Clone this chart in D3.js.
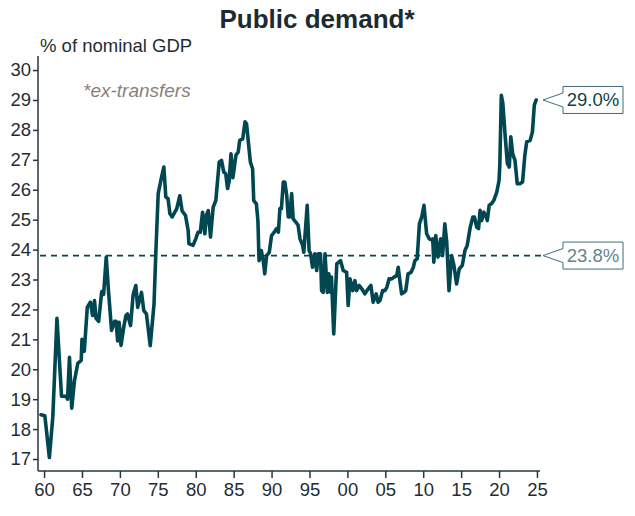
<!DOCTYPE html>
<html>
<head>
<meta charset="utf-8">
<script src="https://cdn.jsdelivr.net/npm/d3@7"></script>
<style>
  html, body { margin: 0; padding: 0; background: #fff; }
  svg { display: block; font-family: "Liberation Sans", Arial, sans-serif; }
</style>
</head>
<body>
<svg id="chart" width="635" height="516"></svg>
<script>
// ---- data ----
const years = [
  1959.6,1960.1,1960.7,1961.15,1961.7,1962.3,1962.9,1963.1,1963.35,1963.65,
  1964.0,1964.45,1964.9,1965.0,1965.3,1965.7,1966.1,1966.4,1966.65,1966.85,
  1967.2,1967.6,1967.85,1968.2,1968.5,1968.9,1969.3,1969.5,1969.7,1969.9,
  1970.15,1970.5,1970.8,1971.0,1971.4,1971.75,1972.1,1972.35,1972.85,1973.15,
  1973.5,1974.0,1974.5,1974.75,1975.05,1975.5,1975.8,1976.05,1976.35,1976.6,
  1976.9,1977.5,1977.9,1978.2,1978.65,1979.0,1979.1,1979.65,1980.0,1980.3,
  1980.6,1980.9,1981.2,1981.4,1981.65,1981.95,1982.3,1982.65,1983.1,1983.4,
  1983.7,1983.95,1984.2,1984.4,1984.65,1984.9,1985.3,1985.6,1985.8,1986.2,
  1986.5,1986.7,1987.05,1987.2,1987.5,1987.65,1988.0,1988.2,1988.35,1988.65,
  1988.9,1989.1,1989.35,1989.7,1990.0,1990.35,1990.65,1990.9,1991.1,1991.3,
  1991.55,1991.75,1992.0,1992.2,1992.4,1992.65,1992.85,1993.2,1993.5,1993.75,
  1994.1,1994.25,1994.7,1994.95,1995.15,1995.4,1995.7,1995.95,1996.15,1996.45,
  1996.6,1996.8,1997.05,1997.35,1997.55,1997.8,1997.9,1998.2,1998.6,1999.1,
  1999.45,1999.9,2000.1,2000.35,2000.7,2001.0,2001.2,2001.55,2001.9,2002.3,
  2002.75,2003.1,2003.4,2003.8,2004.05,2004.3,2004.65,2004.95,2005.2,2005.5,
  2005.85,2006.15,2006.5,2006.7,2006.95,2007.15,2007.45,2007.7,2008.0,2008.4,
  2008.7,2008.9,2009.2,2009.5,2009.8,2010.1,2010.45,2010.8,2011.1,2011.25,
  2011.4,2011.65,2011.95,2012.3,2012.55,2012.85,2013.1,2013.4,2013.75,2014.05,
  2014.4,2014.75,2015.15,2015.5,2015.8,2016.2,2016.55,2016.75,2017.05,2017.3,
  2017.5,2017.7,2018.0,2018.3,2018.45,2018.7,2019.0,2019.3,2019.7,2020.0,
  2020.1,2020.3,2020.5,2020.8,2021.1,2021.35,2021.55,2021.8,2022.1,2022.4,
  2022.75,2023.1,2023.4,2023.65,2024.1,2024.4,2024.65,2024.9
];
const values = [
  18.48,18.45,17.05,18.4,21.7,19.1,19.1,19.0,20.4,18.7,
  19.6,20.2,20.3,21.0,20.6,22.07,22.24,21.8,22.3,21.7,
  21.6,22.6,22.5,23.75,22.6,21.3,21.6,21.6,20.95,21.57,
  20.8,21.4,21.8,21.85,21.46,22.5,22.8,22.07,22.57,21.96,
  21.85,20.79,22.18,23.97,25.87,26.43,26.76,25.76,25.7,25.2,
  25.09,25.37,25.8,25.3,25.14,24.64,24.2,24.14,24.36,24.58,
  24.58,25.25,24.53,25.14,25.3,24.42,25.42,25.64,26.93,26.98,
  26.59,26.54,26.04,26.26,27.2,26.4,27.15,27.26,27.65,27.7,
  28.27,28.2,27.32,26.93,26.7,25.64,25.53,24.97,23.63,23.97,
  23.63,23.19,23.8,23.91,24.47,24.58,24.7,24.58,25.37,25.37,
  26.26,26.26,25.81,25.09,25.09,25.87,25.03,24.92,24.81,24.36,
  24.14,23.91,25.48,23.97,23.86,23.41,23.86,23.3,23.86,23.86,
  22.63,22.57,23.86,22.57,23.19,22.57,23.08,21.18,23.52,23.63,
  23.3,23.24,22.13,23.02,22.63,22.96,22.63,22.8,22.69,22.52,
  22.69,22.8,22.24,22.52,22.24,22.3,22.63,22.63,22.74,23.02,
  23.02,23.08,23.13,23.41,22.91,22.52,22.57,22.63,23.19,23.24,
  23.41,23.63,23.69,24.86,25.09,25.48,24.53,24.36,24.33,24.36,
  23.58,24.47,23.75,24.36,23.8,24.86,24.25,22.63,23.8,23.47,
  22.85,23.35,23.47,23.97,24.14,24.75,25.09,25.09,24.75,24.7,
  25.31,24.97,25.25,25.09,24.97,25.48,25.53,25.64,25.92,26.31,
  26.82,29.16,28.88,27.82,26.87,26.76,27.77,27.2,26.98,26.2,
  26.2,26.26,27.15,27.6,27.65,27.93,28.83,29.0
];
const averageValue = 23.8;
const latestValue = 29.0;
const yTicks = [17,18,19,20,21,22,23,24,25,26,27,28,29,30];
const xTicks = [1960,1965,1970,1975,1980,1985,1990,1995,2000,2005,2010,2015,2020,2025];
const xTickLabels = ["60","65","70","75","80","85","90","95","00","05","10","15","20","25"];
const titleText = "Public demand*";
const unitText = "% of nominal GDP";
const noteText = "*ex-transfers";

// ---- layout ----
const svg = d3.select("#chart");
const mLeft = 38, mRight = 540, mTop = 56, mBottom = 471;
const lineColor = "#004752";
const axisColor = "#26363d";
const textColor = "#1f2d33";

const x = d3.scaleLinear().domain([1959.2, 2025.4]).range([mLeft, mRight]);
const y = d3.scaleLinear().domain([16.6, 30.47]).range([mBottom, mTop]);

// title
svg.append("text")
  .attr("x", 317).attr("y", 28)
  .attr("text-anchor", "middle")
  .attr("font-size", 26).attr("font-weight", "bold")
  .attr("fill", "#1c2b31")
  .text(titleText);

svg.append("text")
  .attr("x", 40).attr("y", 52)
  .attr("font-size", 18.5)
  .attr("fill", textColor)
  .text(unitText);

svg.append("text")
  .attr("x", 83).attr("y", 97)
  .attr("font-size", 19).attr("font-style", "italic")
  .attr("fill", "#8a7f76")
  .text(noteText);

// axes
const yAxis = d3.axisLeft(y).tickValues(yTicks).tickSize(5).tickPadding(2).tickFormat(d3.format("d"));
const yg = svg.append("g").attr("transform", `translate(${mLeft},0)`).call(yAxis);
yg.select(".domain").attr("d", `M0,${mTop}V${mBottom}`);

const xAxis = d3.axisBottom(x).tickValues(xTicks).tickSize(7).tickPadding(5)
  .tickFormat((d, i) => xTickLabels[i]);
const xg = svg.append("g").attr("transform", `translate(0,${mBottom})`).call(xAxis);
xg.select(".domain").attr("d", `M${mLeft},0H${mRight}`);

[yg, xg].forEach(g => {
  g.select(".domain").attr("stroke", axisColor).attr("stroke-width", 1.5);
  g.selectAll(".tick line").attr("stroke", axisColor).attr("stroke-width", 1.5);
  g.selectAll(".tick text").attr("fill", textColor).attr("font-size", 18.5)
    .attr("font-family", "Liberation Sans, Arial, sans-serif");
});

// average dashed line
svg.append("line")
  .attr("x1", mLeft + 2).attr("x2", 543)
  .attr("y1", y(averageValue)).attr("y2", y(averageValue))
  .attr("stroke", lineColor).attr("stroke-width", 1.8)
  .attr("stroke-dasharray", "6,5");

// main line
const pts = years.map((d, i) => [d, values[i]]);
svg.append("path")
  .datum(pts)
  .attr("fill", "none")
  .attr("stroke", lineColor)
  .attr("stroke-width", 3.6)
  .attr("stroke-linejoin", "round")
  .attr("stroke-linecap", "round")
  .attr("d", d3.line().x(d => x(d[0])).y(d => y(d[1])));

// callouts
function callout(val, label, color) {
  const cy = y(val);
  const tipX = 543, bx = 563, bw = 60, bh = 27;
  const g = svg.append("g");
  g.append("path")
    .attr("d", `M${tipX},${cy} L${bx},${cy - 7} L${bx},${cy - bh/2} L${bx + bw},${cy - bh/2} L${bx + bw},${cy + bh/2} L${bx},${cy + bh/2} L${bx},${cy + 7} Z`)
    .attr("fill", "#fff")
    .attr("stroke", "#3f6e77")
    .attr("stroke-width", 1);
  g.append("text")
    .attr("x", bx + bw / 2).attr("y", cy + 6.5)
    .attr("text-anchor", "middle")
    .attr("font-size", 18.5)
    .attr("fill", color)
    .text(label);
}
callout(latestValue, latestValue.toFixed(1) + "%", "#0f3f49");
callout(averageValue, averageValue.toFixed(1) + "%", "#5f858c");
</script>
</body>
</html>
